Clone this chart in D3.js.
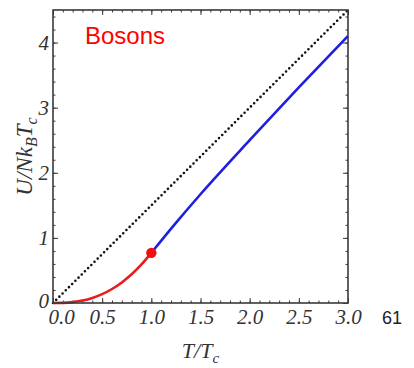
<!DOCTYPE html>
<html>
<head>
<meta charset="utf-8">
<script src="https://cdn.jsdelivr.net/npm/d3@7"></script>
<style>
  html, body { margin: 0; padding: 0; background: #fff; }
  svg { display: block; }
</style>
</head>
<body>
<svg id="chart" width="414" height="368"></svg>
<script>
// Internal energy of an ideal Bose gas, U/(N k_B T_c) against T/T_c
const condensedT = [0.0, 0.1, 0.2, 0.3, 0.4, 0.5, 0.6, 0.7, 0.8, 0.9, 1.0];
const condensedU = [0.0, 0.002, 0.014, 0.038, 0.078, 0.136, 0.215, 0.316, 0.441, 0.592, 0.770];
const normalT = [1.0, 1.25, 1.5, 2.0, 2.5, 3.0];
const normalU = [0.770, 1.23, 1.67, 2.50, 3.31, 4.10];
const classicalT = [0.0, 3.0];
const classicalU = [0.0, 4.5];
const xTicks = [0.0, 0.5, 1.0, 1.5, 2.0, 2.5, 3.0];
const yTicks = [0, 1, 2, 3, 4];
const transitionPoint = [1.0, 0.770];

const svg = d3.select("#chart");
const m = { left: 53, right: 348, top: 10, bottom: 303 };

const x = d3.scaleLinear().domain([0, 3]).range([m.left, m.right]);
const y = d3.scaleLinear().domain([0, 4.5]).range([m.bottom, m.top]);

const frameColor = "#3a3a3a";
const labelColor = "#333";
const serif = "'Liberation Serif', 'DejaVu Serif', serif";

// minor ticks on all four sides
const xMinor = d3.range(0, 3.0001, 0.1);
const yMinor = d3.range(0, 4.5001, 0.2);

function styleAxis(g) {
  g.select(".domain").remove();
  g.selectAll("line").attr("stroke", frameColor).attr("stroke-width", 1);
}

svg.append("g").attr("transform", `translate(0,${m.bottom})`)
  .call(d3.axisBottom(x).tickValues(xMinor).tickSize(-2.5).tickFormat(""))
  .call(styleAxis);
svg.append("g").attr("transform", `translate(0,${m.top})`)
  .call(d3.axisTop(x).tickValues(xMinor).tickSize(-2.5).tickFormat(""))
  .call(styleAxis);
svg.append("g").attr("transform", `translate(${m.left},0)`)
  .call(d3.axisLeft(y).tickValues(yMinor).tickSize(-2.5).tickFormat(""))
  .call(styleAxis);
svg.append("g").attr("transform", `translate(${m.right},0)`)
  .call(d3.axisRight(y).tickValues(yMinor).tickSize(-2.5).tickFormat(""))
  .call(styleAxis);

// major ticks with labels
const xAxis = svg.append("g").attr("transform", `translate(0,${m.bottom})`)
  .call(d3.axisBottom(x).tickValues(xTicks).tickSize(-5).tickPadding(6).tickFormat(d3.format(".1f")))
  .call(styleAxis);
svg.append("g").attr("transform", `translate(0,${m.top})`)
  .call(d3.axisTop(x).tickValues(xTicks).tickSize(-5).tickFormat(""))
  .call(styleAxis);
const yAxis = svg.append("g").attr("transform", `translate(${m.left},0)`)
  .call(d3.axisLeft(y).tickValues(yTicks).tickSize(-5).tickPadding(4).tickFormat(d3.format("d")))
  .call(styleAxis);
svg.append("g").attr("transform", `translate(${m.right},0)`)
  .call(d3.axisRight(y).tickValues(yTicks).tickSize(-5).tickFormat(""))
  .call(styleAxis);

[xAxis, yAxis].forEach(g => g.selectAll("text")
  .attr("font-family", serif)
  .attr("font-style", "italic")
  .attr("font-size", 21)
  .attr("fill", labelColor));
// keep the two zero labels in the corner apart
xAxis.selectAll("text").filter(d => d === 0).attr("dx", 8);
yAxis.selectAll("text").filter(d => d === 0).attr("dy", "0.2em");

// curves
const line = d3.line().x(d => x(d[0])).y(d => y(d[1]));

svg.append("path")
  .datum(d3.zip(classicalT, classicalU))
  .attr("d", line)
  .attr("fill", "none")
  .attr("stroke", "#111")
  .attr("stroke-width", 2.6)
  .attr("stroke-linecap", "round")
  .attr("stroke-dasharray", "0 4.5");

svg.append("path")
  .datum(d3.zip(normalT, normalU))
  .attr("d", line.curve(d3.curveMonotoneX))
  .attr("fill", "none")
  .attr("stroke", "#1f1fe0")
  .attr("stroke-width", 2.6);

svg.append("path")
  .datum(d3.zip(condensedT, condensedU))
  .attr("d", line.curve(d3.curveMonotoneX))
  .attr("fill", "none")
  .attr("stroke", "#e81c1c")
  .attr("stroke-width", 2.6);

svg.append("circle")
  .attr("cx", x(transitionPoint[0]))
  .attr("cy", y(transitionPoint[1]))
  .attr("r", 5.2)
  .attr("fill", "#f01010");

// frame
svg.append("rect")
  .attr("x", m.left).attr("y", m.top)
  .attr("width", m.right - m.left).attr("height", m.bottom - m.top)
  .attr("fill", "none")
  .attr("stroke", frameColor)
  .attr("stroke-width", 1.6);

// titles
svg.append("text")
  .attr("x", 85).attr("y", 44)
  .attr("font-family", "'Liberation Sans', Arial, sans-serif")
  .attr("font-size", 24)
  .attr("fill", "#ff0000")
  .text("Bosons");

const xTitle = svg.append("text")
  .attr("x", (m.left + m.right) / 2).attr("y", 358)
  .attr("text-anchor", "middle")
  .attr("font-family", serif)
  .attr("font-style", "italic")
  .attr("font-size", 22)
  .attr("fill", labelColor);
xTitle.append("tspan").text("T/T");
xTitle.append("tspan").attr("font-size", 15).attr("dy", 5).text("c");

const yTitle = svg.append("text")
  .attr("transform", `translate(32,${(m.top + m.bottom) / 2}) rotate(-90)`)
  .attr("text-anchor", "middle")
  .attr("font-family", serif)
  .attr("font-style", "italic")
  .attr("font-size", 23)
  .attr("fill", labelColor);
yTitle.append("tspan").text("U/Nk");
yTitle.append("tspan").attr("font-size", 16).attr("dy", 5).text("B");
yTitle.append("tspan").attr("dy", -5).text("T");
yTitle.append("tspan").attr("font-size", 16).attr("dy", 5).text("c");

svg.append("text")
  .attr("x", 392).attr("y", 324)
  .attr("text-anchor", "middle")
  .attr("font-family", "'Liberation Sans', Arial, sans-serif")
  .attr("font-size", 18)
  .attr("fill", "#222")
  .text("61");
</script>
</body>
</html>
